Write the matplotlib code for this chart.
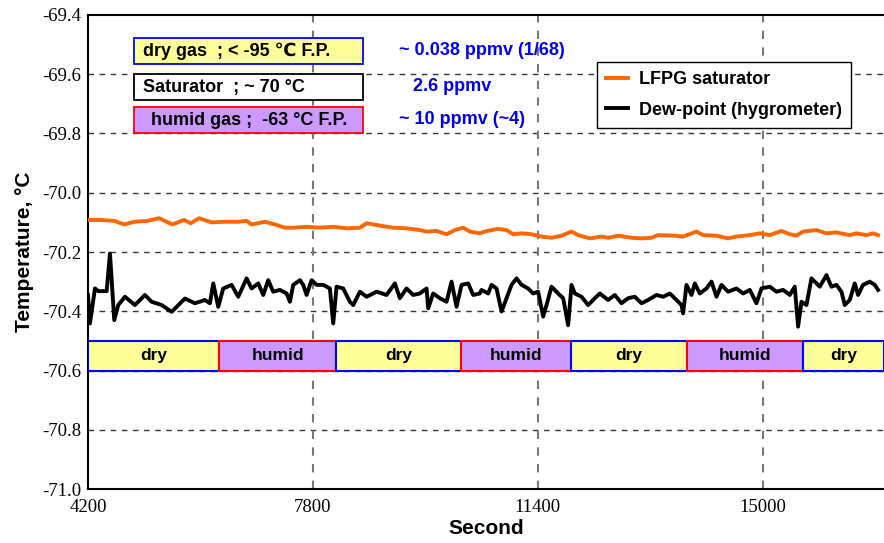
import matplotlib
matplotlib.use("Agg")
import matplotlib.pyplot as plt
from matplotlib.patches import Rectangle

# Dew-point (hygrometer), black trace
dew_t = [4200, 4232, 4312, 4365, 4499, 4552, 4621, 4685, 4792, 4952, 5112, 5219, 5379,
         5539, 5752, 5912, 6072, 6152, 6205, 6285, 6365, 6499, 6605, 6739, 6819, 6925,
         7005, 7085, 7165, 7272, 7379, 7432, 7485, 7592, 7645, 7699, 7779, 7859, 7965,
         8072, 8125, 8179, 8285, 8392, 8445, 8552, 8659, 8819, 8979, 9112, 9192, 9299,
         9405, 9512, 9619, 9645, 9725, 9832, 9939, 10019, 10099, 10179, 10285, 10365,
         10472, 10499, 10605, 10659, 10739, 10819, 10899, 10979, 11059, 11139, 11245,
         11325, 11405, 11485, 11539, 11619, 11725, 11805, 11885, 11939, 11992, 12099,
         12205, 12312, 12392, 12525, 12632, 12739, 12845, 12952, 13059, 13165, 13299,
         13405, 13512, 13619, 13699, 13725, 13779, 13859, 13912, 13992, 14099, 14179,
         14259, 14339, 14445, 14579, 14685, 14792, 14899, 14979, 15112, 15219, 15325,
         15432, 15512, 15565, 15619, 15699, 15779, 15859, 15912, 16019, 16099, 16179,
         16259, 16312, 16392, 16472, 16525, 16605, 16712, 16792, 16845]
dew_v = [-70.345, -70.441, -70.323, -70.332, -70.332, -70.205, -70.430, -70.379, -70.351,
         -70.379, -70.345, -70.368, -70.379, -70.402, -70.357, -70.373, -70.362, -70.373,
         -70.306, -70.385, -70.323, -70.311, -70.351, -70.289, -70.323, -70.306, -70.345,
         -70.295, -70.334, -70.328, -70.340, -70.368, -70.311, -70.295, -70.311, -70.345,
         -70.295, -70.311, -70.311, -70.323, -70.441, -70.317, -70.323, -70.368, -70.379,
         -70.334, -70.351, -70.334, -70.345, -70.306, -70.356, -70.323, -70.345, -70.340,
         -70.323, -70.390, -70.340, -70.356, -70.368, -70.300, -70.385, -70.311, -70.306,
         -70.345, -70.340, -70.328, -70.340, -70.311, -70.323, -70.401, -70.356, -70.311,
         -70.289, -70.311, -70.323, -70.340, -70.334, -70.418, -70.379, -70.317, -70.340,
         -70.356, -70.447, -70.311, -70.340, -70.351, -70.379, -70.356, -70.340, -70.362,
         -70.345, -70.373, -70.356, -70.351, -70.373, -70.362, -70.345, -70.351, -70.340,
         -70.362, -70.379, -70.407, -70.311, -70.345, -70.306, -70.340, -70.323, -70.300,
         -70.351, -70.311, -70.334, -70.323, -70.340, -70.328, -70.373, -70.323, -70.317,
         -70.334, -70.328, -70.345, -70.317, -70.452, -70.368, -70.379, -70.289, -70.306,
         -70.317, -70.278, -70.317, -70.311, -70.334, -70.379, -70.362, -70.306, -70.345,
         -70.311, -70.300, -70.311, -70.328]

# LFPG saturator, orange trace
sat_t = [4195, 4408, 4621, 4781, 4941, 5152, 5339, 5552, 5739, 5845, 5979, 6179, 6392,
         6605, 6739, 6819, 7032, 7192, 7352, 7485, 7699, 7912, 8125, 8339, 8552, 8659,
         8872, 9085, 9299, 9512, 9619, 9779, 9939, 10072, 10205, 10312, 10472, 10552,
         10659, 10765, 10899, 11005, 11139, 11299, 11459, 11619, 11779, 11939, 12045,
         12232, 12419, 12525, 12685, 12899, 13059, 13219, 13325, 13592, 13725, 13939,
         14045, 14259, 14445, 14579, 14792, 14952, 15112, 15299, 15432, 15539, 15645,
         15859, 16019, 16179, 16392, 16499, 16659, 16765, 16845]
sat_v = [-70.092, -70.092, -70.095, -70.107, -70.098, -70.095, -70.086, -70.107, -70.092,
         -70.103, -70.086, -70.100, -70.098, -70.098, -70.095, -70.107, -70.098, -70.107,
         -70.118, -70.118, -70.115, -70.118, -70.115, -70.120, -70.118, -70.103, -70.111,
         -70.118, -70.120, -70.126, -70.131, -70.129, -70.140, -70.126, -70.118, -70.131,
         -70.137, -70.131, -70.126, -70.122, -70.126, -70.140, -70.137, -70.140, -70.148,
         -70.152, -70.145, -70.131, -70.143, -70.154, -70.148, -70.152, -70.145, -70.152,
         -70.154, -70.152, -70.143, -70.145, -70.148, -70.131, -70.143, -70.145, -70.154,
         -70.148, -70.143, -70.137, -70.143, -70.129, -70.140, -70.145, -70.131, -70.126,
         -70.137, -70.134, -70.143, -70.137, -70.143, -70.137, -70.143]

# gas state bands
band_edges = [4200, 6300, 8170, 10170, 11930, 13780, 15640, 16940]
band_names = ["dry", "humid", "dry", "humid", "dry", "humid", "dry"]

xticks = [4200, 7800, 11400, 15000]
yticks = [-71.0, -70.8, -70.6, -70.4, -70.2, -70.0, -69.8, -69.6, -69.4]

sans = ["Liberation Sans", "DejaVu Sans"]

fig = plt.figure(figsize=(8.84, 5.43), dpi=100)
ax = fig.add_axes([0.0995, 0.0994, 0.9005, 0.873])

ax.plot(sat_t, sat_v, color="#FF6600", lw=2.8, label="LFPG saturator", zorder=3)
ax.plot(dew_t, dew_v, color="black", lw=2.8, label="Dew-point (hygrometer)", zorder=3)

ax.set_xlim(4200, 16940)
ax.set_ylim(-71.0, -69.4)
ax.set_xticks(xticks)
ax.set_xticklabels([str(v) for v in xticks], family="Liberation Serif", fontsize=13.5)
ax.set_yticks(yticks)
ax.set_yticklabels(["%.1f" % v for v in yticks], family="Liberation Serif", fontsize=13.5)
ax.tick_params(axis="both", direction="in", length=0, width=1)
ax.tick_params(axis="x", pad=7)
ax.tick_params(axis="y", pad=5)

for yv in yticks[1:-1]:
    ax.axhline(yv, color="#333333", lw=1, ls=(0, (4, 4)), zorder=1)
for xv in xticks[1:]:
    ax.axvline(xv, color="#777777", lw=1.5, ls=(0, (4, 4)), zorder=1)

for s in ["left", "bottom", "top"]:
    ax.spines[s].set_linewidth(1.5)
ax.spines["right"].set_visible(False)

# state bands
for i, name in enumerate(band_names):
    x0, x1 = band_edges[i], band_edges[i + 1]
    if name == "dry":
        fc, ec = "#FFFF99", "#0000FF"
    else:
        fc, ec = "#CC99FF", "#FF0000"
    ax.add_patch(Rectangle((x0, -70.6), x1 - x0, 0.1, facecolor=fc, edgecolor=ec,
                           lw=1.5, zorder=4))
    ax.text((x0 + x1) / 2, -70.55, name, ha="center", va="center", fontsize=12.5,
            fontweight="bold", family=sans, zorder=5)

# condition boxes
boxes = [(-69.565, "#FFFF99", "#0000FF", "dry gas  ; < -95 \u2103 F.P.", 5080),
         (-69.687, "white", "black", "Saturator  ; ~ 70 \u00b0C", 5080),
         (-69.798, "#CC99FF", "#FF0000", "humid gas ;  -63 \u00b0C F.P.", 5208)]
for y0, fc, ec, txt, tx in boxes:
    ax.add_patch(Rectangle((4936, y0), 3664, 0.087, facecolor=fc, edgecolor=ec,
                           lw=1.3, zorder=4))
    ax.text(tx, y0 + 0.042, txt, ha="left", va="center", fontsize=13,
            fontweight="bold", family=sans, zorder=5)

notes = [(9170, -69.521, "~ 0.038 ppmv (1/68)"),
         (9410, -69.643, "2.6 ppmv"),
         (9170, -69.753, "~ 10 ppmv (~4)")]
for nx, ny, txt in notes:
    ax.text(nx, ny, txt, ha="left", va="center", fontsize=13, fontweight="bold",
            color="#0000EE", family=sans)

leg = ax.legend(loc="upper right", bbox_to_anchor=(0.9585, 0.9008), frameon=True,
                fancybox=False, edgecolor="black", framealpha=1,
                prop={"family": sans, "weight": "bold", "size": 13},
                handlelength=1.2, handletextpad=0.6, labelspacing=0.75,
                borderpad=0.5, borderaxespad=0)
leg.get_frame().set_linewidth(1)

ax.set_xlabel("Second", fontsize=15, fontweight="bold", family=sans, labelpad=2)
ax.set_ylabel("Temperature, \u00b0C", fontsize=15, fontweight="bold", family=sans,
              labelpad=6)

fig.savefig("out.png", dpi=100)
